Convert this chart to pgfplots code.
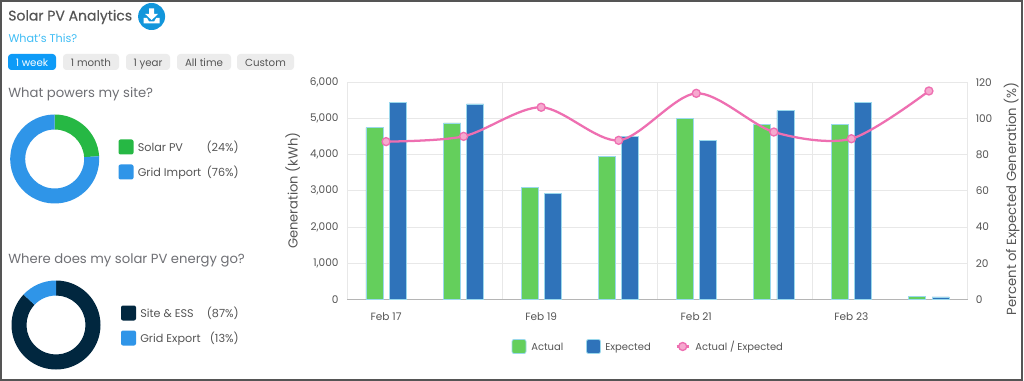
\documentclass[border=0pt]{standalone}
\usepackage{pgfplots}
\pgfplotsset{compat=1.18}
\usepackage{fontspec}
\setmainfont{Poppins}
\definecolor{frame}{HTML}{555555}
\definecolor{txt}{HTML}{555555}
\definecolor{head}{HTML}{6F7075}
\definecolor{lnk}{HTML}{3FBDF5}
\definecolor{btn}{HTML}{ECECEC}
\definecolor{btnon}{HTML}{0E9BF7}
\definecolor{dlb}{HTML}{1296DB}
\definecolor{sgreen}{HTML}{26B844}
\definecolor{sblue}{HTML}{2F95E8}
\definecolor{snavy}{HTML}{01273F}
\definecolor{bgreen}{HTML}{64CF5C}
\definecolor{bblue}{HTML}{2F73BA}
\definecolor{bedge}{HTML}{9AD8EC}
\definecolor{pinkl}{HTML}{EE6FB1}
\definecolor{pinkf}{HTML}{F6A9CF}
\definecolor{gridc}{HTML}{E8E8E8}
\definecolor{axc}{HTML}{B5B5B5}
\pgfplotstableread{
idx actual expected
0 4747 5438
1 4876 5401
2 3097 2931
3 3954 4498
4 5005 4387
5 4830 5217
6 4838 5438
7 80 65
}\gendata
\pgfplotstableread{
idx ratio
0 87.2
1 90.1
2 106.2
3 87.9
4 113.9
5 92.5
6 88.8
7 115.2
}\ratiodata
\newcommand{\donutslice}[7]{% cx cy R r start end colour (angles clockwise from top, in percent)
  \pgfmathsetmacro{\aa}{90-3.6*#5}\pgfmathsetmacro{\ab}{90-3.6*#6}
  \fill[#7] ({#1+#3*cos(\aa)},{#2-#3*sin(\aa)})
    arc[start angle=-\aa,end angle=-\ab,radius=#3]
    -- ({#1+#4*cos(\ab)},{#2-#4*sin(\ab)})
    arc[start angle=-\ab,end angle=-\aa,radius=#4] -- cycle;}
\tikzset{tb/.style={inner sep=0pt,text height=1.5ex,text depth=0.4ex}}
\newcommand{\lbl}[4][txt]{\node[tb,anchor=west,text=#1,font=\fontsize{#2}{#2}\selectfont] at (#3) {#4};}
\newcommand{\swatch}[3]{\fill[#3,rounded corners=1.5pt] (#1-7.5,#2-7.5) rectangle (#1+7.5,#2+7.5);}
\newcommand{\bswatch}[3]{\draw[fill=#3,draw=bedge,line width=0.6pt,rounded corners=1.5pt] (#1-7,#2-7) rectangle (#1+7,#2+7);}
\newcommand{\pill}[5]{\fill[#5,rounded corners=2.5pt] (#1,#2) rectangle (#3,#4);}
\begin{document}
\begin{tikzpicture}[x=0.75pt,y=-0.75pt]
\useasboundingbox (0,0) rectangle (1024,381);
\fill[white] (0,0) rectangle (1024,381);
\draw[frame,line width=1.5pt] (1,1) rectangle (1022,380);
\coordinate (O) at (347.3,299.3);
% header
\node[tb,anchor=west,text=txt,font=\fontsize{10.5}{10.5}\selectfont\addfontfeature{FakeBold=0.25}] at (8,16.5) {Solar PV Analytics};
\fill[dlb] (151.6,16.5) circle[radius=13.5];
\fill[white] (149,8.5) rectangle (154.2,14) -- (158,14) -- (151.6,20) -- (145.2,14) -- (149,14) -- cycle;
\fill[white] (143.5,18) -- (147,18) -- (149,21.5) -- (154.2,21.5) -- (156.2,18) -- (159.7,18) -- (159.7,23.5) -- (143.5,23.5) -- cycle;
\lbl[lnk]{8.4}{8.3,38}{What's This?}
% buttons
\pill{8}{54}{56}{70}{btnon}
\pill{63}{54}{119}{70}{btn}
\pill{126}{54}{170}{70}{btn}
\pill{177}{54}{231}{70}{btn}
\pill{237}{54}{294}{70}{btn}
\node[tb,text=white,font=\fontsize{7.7}{7.7}\selectfont] at (32,62) {1 week};
\node[tb,text=txt,font=\fontsize{7.7}{7.7}\selectfont] at (91,62) {1 month};
\node[tb,text=txt,font=\fontsize{7.7}{7.7}\selectfont] at (148,62) {1 year};
\node[tb,text=txt,font=\fontsize{7.7}{7.7}\selectfont] at (204,62) {All time};
\node[tb,text=txt,font=\fontsize{7.7}{7.7}\selectfont] at (265.5,62) {Custom};
\lbl[head]{9.9}{8,93}{What powers my site?}
\lbl[head]{9.9}{8,259}{Where does my solar PV energy go?}
% donuts
\donutslice{54.7}{159}{44.5}{29.5}{0}{24}{sgreen}
\donutslice{54.7}{159}{44.5}{29.5}{24}{100}{sblue}
\donutslice{56}{325}{44.5}{29.5}{0}{87}{snavy}
\donutslice{56}{325}{44.5}{29.5}{87}{100}{sblue}
\swatch{126}{147}{sgreen}
\swatch{126}{172}{sblue}
\swatch{128.5}{313}{snavy}
\swatch{128.5}{338}{sblue}
\lbl{8.4}{137.5,147}{Solar PV}
\lbl{8.4}{137.5,172}{Grid Import}
\lbl{8.4}{140,313}{Site \& ESS}
\lbl{8.4}{140,338}{Grid Export}
\node[tb,anchor=east,text=txt,font=\fontsize{8.4}{8.4}\selectfont] at (239,147) {(24\%)};
\node[tb,anchor=east,text=txt,font=\fontsize{8.4}{8.4}\selectfont] at (239,172) {(76\%)};
\node[tb,anchor=east,text=txt,font=\fontsize{8.4}{8.4}\selectfont] at (239,313) {(87\%)};
\node[tb,anchor=east,text=txt,font=\fontsize{8.4}{8.4}\selectfont] at (239,338) {(13\%)};
% chart
\begin{axis}[
  at={(O)},anchor=south west,
  scale only axis,width=465.3pt,height=162.75pt,
  xmin=-0.5,xmax=7.5,ymin=0,ymax=6000,
  axis y line*=left,axis x line*=bottom,
  xtick={0,2,4,6},xticklabels={Feb 17,Feb 19,Feb 21,Feb 23},
  minor xtick={1.5,3.5,5.5},
  ytick={0,1000,...,6000},
  minor grid style={gridc,line width=0.6pt},
  major grid style={gridc,line width=0.6pt},
  ymajorgrids,xminorgrids,
  tick style={draw=none},
  minor tick style={draw=none},
  axis line style={axc,line width=0.7pt},
  y axis line style={draw=gridc},
  /pgf/number format/assume math mode=true,
  /pgf/number format/1000 sep={,},
  xticklabel style={text=txt,font=\fontsize{7.9}{7.9}\selectfont,yshift=-6.75pt},
  yticklabel style={text=txt,font=\fontsize{7.9}{7.9}\selectfont,xshift=-3pt},
  xtick pos=bottom,
  ylabel={Generation (kWh)},
  ylabel style={text=txt,font=\fontsize{9.8}{9.8}\selectfont,at={(axis description cs:-0.088,0.5)},anchor=center},
  clip=false,
]
\addplot[ybar,bar width=12.75pt,bar shift=-8.7pt,fill=bgreen,draw=bedge,line width=0.6pt] table[x=idx,y=actual]{\gendata};
\addplot[ybar,bar width=12.75pt,bar shift=8.7pt,fill=bblue,draw=bedge,line width=0.6pt] table[x=idx,y=expected]{\gendata};
\end{axis}
\begin{axis}[
  at={(O)},anchor=south west,
  scale only axis,width=465.3pt,height=162.75pt,
  xmin=-0.5,xmax=7.5,ymin=0,ymax=120,
  axis y line*=right,axis x line=none,
  ytick={0,20,...,120},
  tick style={draw=none},
  y axis line style={draw=gridc,line width=0.6pt},
  /pgf/number format/assume math mode=true,
  yticklabel style={text=txt,font=\fontsize{7.9}{7.9}\selectfont,xshift=2.5pt},
  ylabel={Percent of Expected Generation (\%)},
  ylabel style={text=txt,font=\fontsize{9.9}{9.9}\selectfont,at={(axis description cs:1.0709,0.463)},anchor=center},
  clip=false,
]
\addplot[pinkl,line width=1.7pt,smooth,mark=*,mark size=3pt,mark options={fill=pinkf,draw=pinkl,line width=1pt}] table[x=idx,y=ratio]{\ratiodata};
\end{axis}
% legend
\bswatch{519}{346.5}{bgreen}
\lbl{7.5}{531,346.5}{Actual}
\bswatch{593.5}{346.5}{bblue}
\lbl{7.5}{605,346.5}{Expected}
\draw[pinkl,line width=1.7pt] (676.5,346.5) -- (689,346.5);
\draw[fill=pinkf,draw=pinkl,line width=1pt] (682.7,346.5) circle[radius=3pt];
\lbl{7.5}{695,346.5}{Actual / Expected}
\end{tikzpicture}
\end{document}
